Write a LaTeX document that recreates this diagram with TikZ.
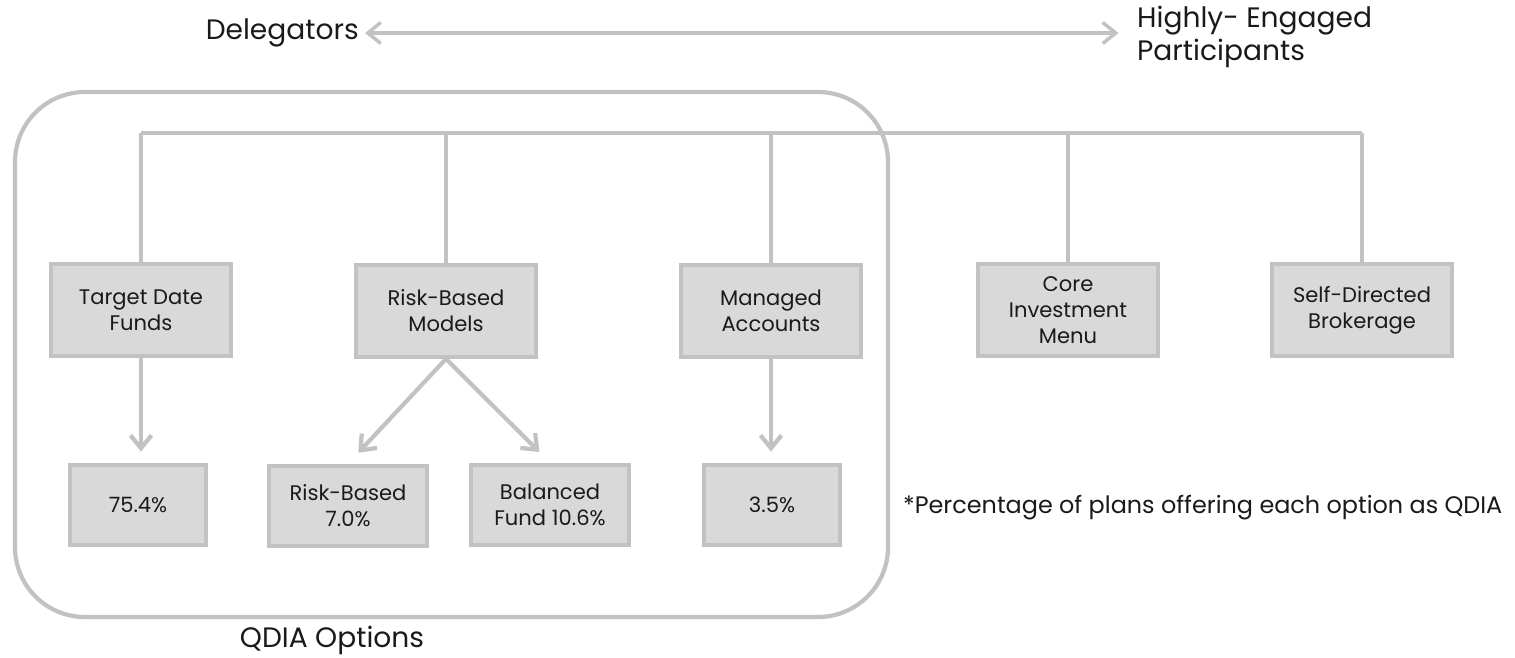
\documentclass[tikz,border=0pt]{standalone}
\usepackage{fontspec}
\setmainfont{Poppins}
\usetikzlibrary{arrows.meta}
\definecolor{linegray}{HTML}{C2C2C2}
\definecolor{boxgray}{HTML}{D9D9D9}
\definecolor{txtblack}{HTML}{1A1A1A}
\tikzset{
  optbox/.style={draw=linegray,fill=boxgray,line width=2.4pt,minimum width=3.6cm,minimum height=1.83cm,
    align=center,text=txtblack,font=\fontsize{12}{14.8}\selectfont},
  pctbox/.style={optbox,minimum width=2.72cm,minimum height=1.61cm},
  splitbox/.style={optbox,minimum width=3.15cm,minimum height=1.61cm},
  conn/.style={draw=linegray,line width=2.4pt},
  arr/.style={conn,-{Straight Barb[length=2.6mm,width=4.2mm]},shorten >=0.22cm},
  headtxt/.style={text=txtblack,font=\fontsize{16}{19}\selectfont},
  notetxt/.style={text=txtblack,font=\fontsize{13.6}{16}\selectfont}
}
\begin{document}
\begin{tikzpicture}[x=0.02cm,y=-0.02cm]
  \useasboundingbox (0,0) rectangle (1515,657);
  \node[headtxt,anchor=east] (deleg) at (365,33) {Delegators};
  \node[headtxt,anchor=west,align=left] (engaged) at (1131,37) {Highly- Engaged\\Participants};
  \draw[conn,line width=2pt,{Straight Barb[length=2.6mm,width=4.2mm]}-{Straight Barb[length=2.6mm,width=4.2mm]},shorten >=0.25cm] (deleg.east) -- (engaged.west |- deleg.east);
  \draw[conn,rounded corners=1.4cm] (15,92) rectangle (888,617);
  \node[headtxt] (qdia) at (332,640) {QDIA Options};
  \node[optbox] (tdf) at (141,310) {Target Date\\Funds};
  \node[optbox] (rbm) at (446,311) {Risk-Based\\Models};
  \node[optbox] (ma) at (771,311) {Managed\\Accounts};
  \node[optbox] (cim) at (1068,310) {Core\\Investment\\Menu};
  \node[optbox] (sdb) at (1362,310) {Self-Directed\\Brokerage};
  \node[pctbox] (tdfpct) at (138,505) {75.4\%};
  \node[splitbox] (rbpct) at (348,506) {Risk-Based\\7.0\%};
  \node[splitbox] (bfpct) at (550,505) {Balanced\\Fund 10.6\%};
  \node[pctbox] (mapct) at (772,505) {3.5\%};
  \node[notetxt,anchor=west] (note) at (897,508) {*Percentage of plans offering each option as QDIA};
  \coordinate (busL) at (141,133);
  \coordinate (busR) at (1362,133);
  \draw[conn] (busL) -- (busR);
  \foreach \opt in {tdf,rbm,ma,cim,sdb} \draw[conn] (\opt.north) -- (\opt.north |- busL);
  \draw[arr] (tdf.south) -- (tdf.south |- tdfpct.north);
  \draw[arr,shorten >=0.3cm] (rbm.south) -- (rbpct.north);
  \draw[arr,shorten >=0.3cm] (rbm.south) -- (bfpct.north);
  \draw[arr] (ma.south) -- (ma.south |- mapct.north);
\end{tikzpicture}
\end{document}
